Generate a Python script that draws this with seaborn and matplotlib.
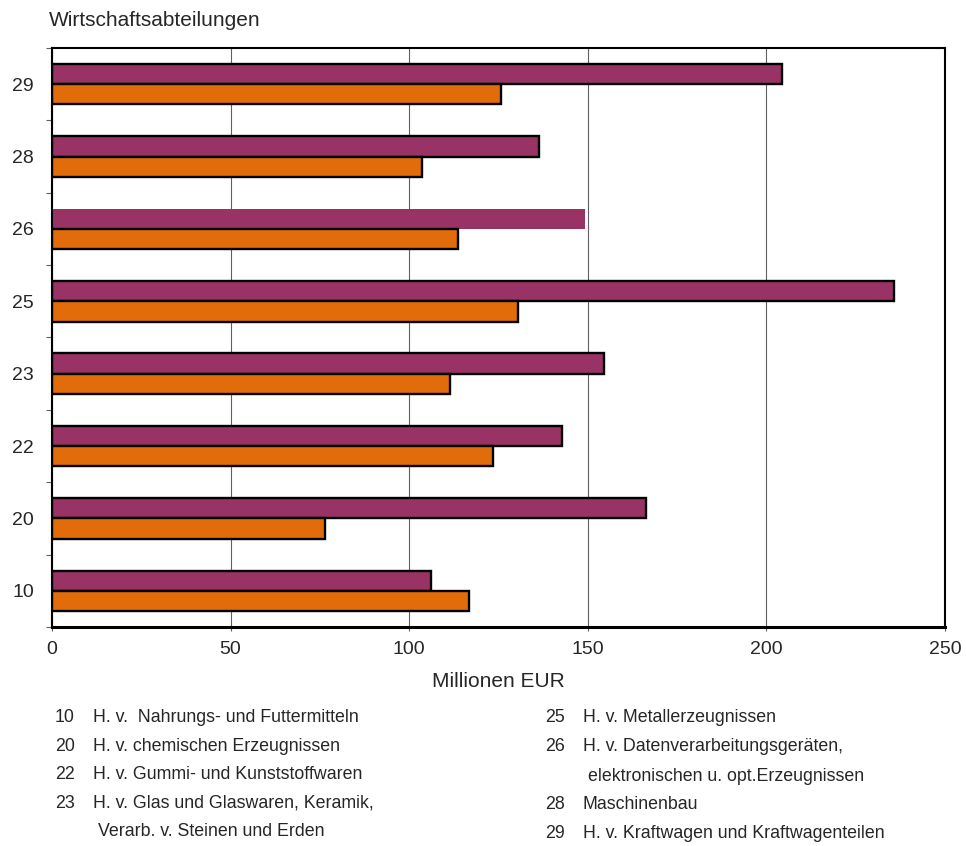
import matplotlib.pyplot as plt
import seaborn as sns
import pandas as pd
import numpy as np

# Werte (Millionen EUR)
abteilungen = ['29', '28', '26', '25', '23', '22', '20', '10']
werte_lila = [204.5, 136.4, 149.1, 235.7, 154.5, 142.8, 166.2, 106.2]
werte_orange = [125.7, 103.6, 113.8, 130.5, 111.4, 123.6, 76.4, 116.7]
reihen = ['Reihe 1', 'Reihe 2']
farben = ['#993366', '#E36C0A']

legende_links = [
    ('10', 'H. v.  Nahrungs- und Futtermitteln'),
    ('20', 'H. v. chemischen Erzeugnissen'),
    ('22', 'H. v. Gummi- und Kunststoffwaren'),
    ('23', 'H. v. Glas und Glaswaren, Keramik,'),
    ('', 'Verarb. v. Steinen und Erden'),
]
legende_rechts = [
    ('25', 'H. v. Metallerzeugnissen'),
    ('26', 'H. v. Datenverarbeitungsgeräten,'),
    ('', 'elektronischen u. opt.Erzeugnissen'),
    ('28', 'Maschinenbau'),
    ('29', 'H. v. Kraftwagen und Kraftwagenteilen'),
]

df = pd.DataFrame({
    'abteilung': abteilungen * 2,
    'wert': werte_lila + werte_orange,
    'reihe': [reihen[0]] * len(abteilungen) + [reihen[1]] * len(abteilungen),
})

sns.set_style('white')
plt.rcParams['font.family'] = ['Liberation Sans', 'DejaVu Sans']

fig = plt.figure(figsize=(9.66, 8.46), dpi=100)
ax = fig.add_axes([52 / 966, 1 - 627 / 846, (945 - 52) / 966, (627 - 48) / 846])

sns.barplot(data=df, x='wert', y='abteilung', hue='reihe', order=abteilungen,
            hue_order=reihen, palette=farben, orient='h', width=0.56,
            edgecolor='black', linewidth=1.7, saturation=1, legend=False, ax=ax)

# Balken 26 (lila) ohne Rahmen
for p in ax.patches:
    y_mitte = p.get_y() + p.get_height() / 2
    if p.get_facecolor()[0] > 0.55 and p.get_facecolor()[1] < 0.3 and abs(y_mitte - (2 - 0.14)) < 0.05:
        p.set_edgecolor('none')

ax.set_xlim(0, 250)
ax.set_ylim(len(abteilungen) - 0.5, -0.5)
ax.set_xticks([0, 50, 100, 150, 200, 250])
ax.xaxis.grid(True, color='#606060', linewidth=0.8)
ax.set_axisbelow(True)
for s in ax.spines.values():
    s.set_color('black')
    s.set_linewidth(1.5)
ax.spines['bottom'].set_linewidth(2.2)

ax.set_yticks(range(len(abteilungen)))
ax.set_yticklabels(abteilungen)
ax.set_yticks(np.arange(len(abteilungen) + 1) - 0.5, minor=True)
ax.tick_params(axis='y', which='major', length=0, labelsize=14, pad=13)
ax.tick_params(axis='y', which='minor', left=True, length=4, width=0.8, color='#606060')
ax.tick_params(axis='x', which='major', bottom=True, length=3, width=0.8, color='#606060',
               labelsize=14, pad=7)
ax.set_xlabel('Millionen EUR', fontsize=15)
ax.xaxis.set_label_coords(0.5, (627 - 681) / (627 - 48))
ax.xaxis.label.set_va('center')
ax.set_ylabel('')

fig.text(49 / 966, 1 - 20 / 846, 'Wirtschaftsabteilungen', fontsize=15, va='center', ha='left')

ys_links = [717, 746, 774, 803, 831]
ys_rechts = [717, 746, 776, 804, 833]
for (nr, txt), yy in zip(legende_links, ys_links):
    fig.text(55 / 966, 1 - yy / 846, nr, fontsize=12.8, va='center')
    x_txt = 93 if nr else 98
    fig.text(x_txt / 966, 1 - yy / 846, txt, fontsize=12.8, va='center')
for (nr, txt), yy in zip(legende_rechts, ys_rechts):
    fig.text(545 / 966, 1 - yy / 846, nr, fontsize=12.8, va='center')
    x_txt = 583 if nr else 588
    fig.text(x_txt / 966, 1 - yy / 846, txt, fontsize=12.8, va='center')

fig.savefig('out.png', dpi=100)
